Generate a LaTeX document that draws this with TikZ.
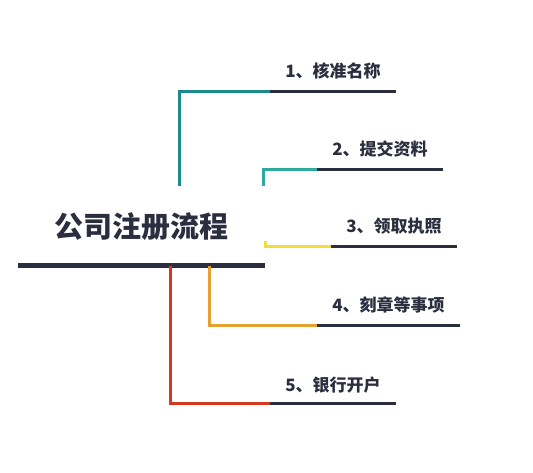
\documentclass[tikz,border=0pt]{standalone}
\usepackage{fontspec}
\newfontfamily\cjk{Noto Sans CJK SC}
\usetikzlibrary{positioning}
\definecolor{navy}{HTML}{2A2E3E}
\definecolor{tealA}{HTML}{1B8A8C}
\definecolor{tealB}{HTML}{2EAB9C}
\definecolor{lemon}{HTML}{F3DC3E}
\definecolor{amber}{HTML}{E5A032}
\definecolor{brick}{HTML}{D53A1E}

\begin{document}
\begin{tikzpicture}[x=1pt,y=1pt]
\tikzstyle{every node}=[text=navy,inner sep=0pt]
\tikzstyle{steplabel}=[font=\cjk\bfseries\fontsize{17}{20}\selectfont,yshift=21pt]
\tikzstyle{stem}=[line width=3pt]
\tikzstyle{bar}=[line width=3pt,navy]
\useasboundingbox (0,0) rectangle (533,473);
\node (title) at (141.5,246) [font=\cjk\bfseries\fontsize{29}{32}\selectfont] {公司注册流程};
\coordinate (mainL) at (18,207);
\coordinate (mainR) at (265,207);
\draw[line width=5pt,navy] (mainL) -- (mainR);
% 1
\coordinate (s1) at (179,287);
\coordinate (m1) at (270,381);
\coordinate (e1) at (396,381);
\draw[stem,tealA] (s1) |- (m1);
\draw[bar] (m1) -- (e1) node[midway,steplabel] (lab1) {1、核准名称};
% 2
\coordinate (s2) at (263,287);
\coordinate (m2) at (317,303);
\coordinate (e2) at (443,303);
\draw[stem,tealB] (s2) |- (m2);
\draw[bar] (m2) -- (e2) node[midway,steplabel] (lab2) {2、提交资料};
% 3
\coordinate (s3) at (265,232);
\coordinate (m3) at (331,226);
\coordinate (e3) at (457,226);
\draw[stem,lemon] (s3) |- (m3);
\draw[bar] (m3) -- (e3) node[midway,steplabel] (lab3) {3、领取执照};
% 4
\coordinate (s4) at (209,207);
\coordinate (m4) at (317,147);
\coordinate (e4) at (460,147);
\draw[stem,amber] (s4) |- (m4);
\draw[bar] (m4) -- (e4) node[midway,steplabel] (lab4) {4、刻章等事项};
% 5
\coordinate (s5) at (170,207);
\coordinate (m5) at (270,69);
\coordinate (e5) at (396,69);
\draw[stem,brick] (s5) |- (m5);
\draw[bar] (m5) -- (e5) node[midway,steplabel,yshift=-2pt] (lab5) {5、银行开户};
\end{tikzpicture}
\end{document}
